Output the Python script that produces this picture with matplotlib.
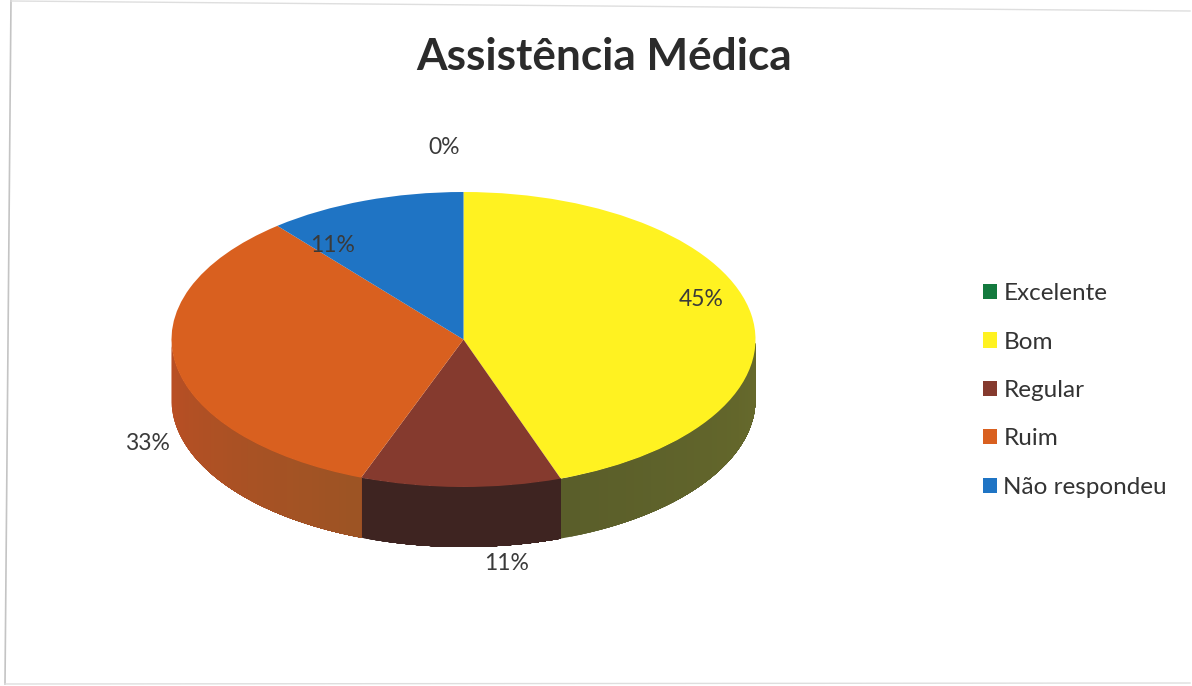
import numpy as np
from matplotlib import pyplot as plt
from matplotlib.colors import to_rgb

plt.rcParams['font.family'] = ['Lato', 'DejaVu Sans']

title = "Assistência Médica"
categories = ["Excelente", "Bom", "Regular", "Ruim", "Não respondeu"]
values = [0.0, 44.6, 11.1, 33.3, 11.0]
pct_labels = ["0%", "45%", "11%", "33%", "11%"]
top_colors = ["#137a3e", "#fff221", "#853a2e", "#d9601f", "#1f74c4"]
# wall colours: low angle end and high angle end of each slice
wall_colors = [("#0b4a26", "#0b4a26"), ("#5a5e2a", "#676a2c"), ("#3e2421", "#3e2421"),
               ("#bb4e24", "#9c5424"), ("#10406e", "#10406e")]

W, H = 1192, 686
cx, cy, rx, ry, depth = 463.5, 339.5, 292, 147.5, 60

fig = plt.figure(figsize=(W/100, H/100), dpi=100)

# overlay in pixel coordinates for frame and labels
over = fig.add_axes([0, 0, 1, 1], zorder=3)
over.set_xlim(0, W)
over.set_ylim(H, 0)
over.axis('off')
over.patch.set_alpha(0)

over.plot([11, 5], [0, 684], color='#c4c4c4', lw=1.2)
over.plot([11, 1190], [1, 11], color='#dedede', lw=1)
over.plot([5, 1190], [684, 683], color='#dedede', lw=1)

# pie axes stretched to an ellipse
ax = fig.add_axes([(cx-rx)/W, 1-(cy+ry)/H, 2*rx/W, 2*ry/H], zorder=2)
wedges, _ = ax.pie(values, colors=top_colors, startangle=90, counterclock=False, radius=1,
                   wedgeprops={'linewidth': 0})
ax.set_aspect('auto')
ax.set_xlim(-1, 1)
ax.set_ylim(-1, 1)

d = depth/ry
for w, (c0, c1) in zip(wedges, wall_colors):
    if w.theta2 - w.theta1 <= 0:
        continue
    t = np.radians(np.linspace(w.theta1, w.theta2, 80))
    t = t[np.sin(t) <= 0.001]
    if len(t) < 2:
        continue
    a, b = np.array(to_rgb(c0)), np.array(to_rgb(c1))
    # each strip runs to the end of the slice so no seams show
    for i in range(len(t)-1):
        f = i/(len(t)-1)
        col = a + (b-a)*f
        xs = np.cos(t[i:])
        ys = np.sin(t[i:])
        ax.fill(np.r_[xs, xs[::-1]], np.r_[ys, ys[::-1]-d], color=col, lw=0,
                zorder=0.5, clip_on=False)

over.text(604, 57.5, title, fontsize=31.8, fontweight='bold', color='#2b2b2b', ha='center', va='center')

pct_pos = [(444, 147), (701, 299), (333, 246), (147, 444), (507, 563)]
for lab, (x, y) in zip(pct_labels, pct_pos):
    over.text(x, y, lab, fontsize=16.5, color='#3a3a3a', ha='center', va='center')

leg = fig.legend(wedges, categories, loc='upper left', bbox_to_anchor=(976/W, 1-276/H),
                 frameon=False, fontsize=17.5, labelspacing=1.125, handlelength=0.58,
                 handleheight=0.58, handletextpad=0.25, borderpad=0.3, borderaxespad=0)
for txt in leg.get_texts():
    txt.set_color('#333333')
leg.set_zorder(4)

fig.savefig('out.png', dpi=100)
